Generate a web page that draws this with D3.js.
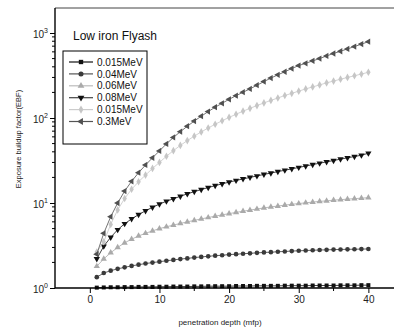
<!DOCTYPE html>
<html><head><meta charset="utf-8">
<script src="https://cdn.jsdelivr.net/npm/d3@7"></script>
<style>body{margin:0;background:#fff}svg{display:block}text{font-family:"Liberation Sans",Arial,sans-serif}</style>
</head><body><svg id="c" width="394" height="331"></svg>
<script>
const depth = [1,2,3,4,5,6,7,8,9,10,11,12,13,14,15,16,17,18,19,20,21,22,23,24,25,26,27,28,29,30,31,32,33,34,35,36,37,38,39,40];
const e0015 = [1.01,1.015,1.02,1.02,1.025,1.025,1.03,1.03,1.03,1.035,1.035,1.04,1.04,1.04,1.045,1.045,1.05,1.05,1.05,1.05,1.055,1.055,1.055,1.06,1.06,1.06,1.06,1.065,1.065,1.065,1.065,1.07,1.07,1.07,1.07,1.075,1.075,1.075,1.08,1.08];
const e004 = [1.34,1.5,1.6,1.68,1.75,1.82,1.88,1.94,1.99,2.04,2.09,2.14,2.19,2.23,2.28,2.32,2.36,2.4,2.43,2.47,2.5,2.53,2.56,2.59,2.62,2.64,2.67,2.69,2.72,2.74,2.76,2.78,2.8,2.81,2.83,2.84,2.85,2.86,2.87,2.88];
const e006 = [1.8,2.2,2.6,3.0,3.4,3.75,4.1,4.4,4.7,5.0,5.25,5.5,5.75,6.0,6.25,6.5,6.75,7.0,7.25,7.5,7.75,8.0,8.25,8.5,8.75,9.0,9.2,9.45,9.65,9.85,10.05,10.25,10.45,10.6,10.8,10.95,11.1,11.25,11.4,11.55];
const e008 = [2.2,3.1,3.95,4.85,5.7,6.5,7.3,8.1,8.9,9.7,10.5,11.2,12,12.8,13.6,14.4,15.2,16,16.8,17.6,18.4,19.2,20,20.8,21.7,22.5,23.4,24.3,25.2,26.2,27.2,28.3,29.4,30.5,31.6,32.8,34,35.2,36.5,38.5];
const e0015b = [2.65,3.5,5.6,8.3,11.3,14.5,17.8,21.3,25.5,30,35.5,41.3,47.6,54.2,61.2,68.6,76.3,84.4,92.8,101.6,110.7,120.2,130,140,150.5,161,172,184,195,207,220,232,245,259,272,286,300,314,329,345];
const e03 = [2.5,4.4,6.9,10,13.8,18,22.7,28,34,41,49.6,59,69,80,92,105,119,134,149,166,183,201,220,243,268,295,322,350,382,414,440,470,500,538,574,610,650,692,740,790];
const seriesNames = ["0.015MeV","0.04MeV","0.06MeV","0.08MeV","0.015MeV","0.3MeV"];
const xTicks = [0,10,20,30,40];
const yTicks = [1,10,100,1000];
const chartTitle = "Low iron Flyash";

const seriesValues = [e0015,e004,e006,e008,e0015b,e03];
const styles = [
  {color:"#111", sym:d3.symbolSquare, size:16, rot:0, lc:"#111"},
  {color:"#3a3a3a", sym:d3.symbolCircle, size:17, rot:0, lc:"#555"},
  {color:"#aaaaaa", sym:d3.symbolTriangle, size:17, rot:0, lc:"#bbb"},
  {color:"#111", sym:d3.symbolTriangle, size:17, rot:180, lc:"#444"},
  {color:"#c6c6c6", sym:d3.symbolDiamond, size:17, rot:0, lc:"#ccc"},
  {color:"#505050", sym:d3.symbolTriangle, size:17, rot:-90, lc:"#555"}
];

const svg = d3.select("#c");
const x = d3.scaleLinear().domain([-5,45]).range([55,403.2]);
const y = d3.scaleLog().domain([1,1000]).range([288,33]);
const topY = 8;

// frame
svg.append("line").attr("x1",55).attr("x2",394).attr("y1",topY).attr("y2",topY).attr("stroke","#444").attr("stroke-width",1);

// series
const line = d3.line().x((d,i)=>x(depth[i])).y(d=>y(d));
seriesValues.forEach((vals,k)=>{
  const st = styles[k];
  const g = svg.append("g");
  g.append("path").attr("d",line(vals)).attr("fill","none").attr("stroke",st.color).attr("stroke-width",0.8);
  g.selectAll("path.m").data(vals).enter().append("path").attr("class","m")
    .attr("d",d3.symbol().type(st.sym).size(st.size))
    .attr("transform",(d,i)=>`translate(${x(depth[i])},${y(d)}) rotate(${st.rot})`)
    .attr("fill",st.color);
});

// axes
const xAxis = d3.axisBottom(x).tickValues(xTicks).tickSize(5).tickPadding(3).tickFormat(d3.format("d"));
const gx = svg.append("g").attr("transform","translate(0,288)").call(xAxis);
gx.select(".domain").attr("d","M55,0H394").attr("stroke","#000").attr("stroke-width",1.4);
gx.selectAll(".tick line").attr("stroke","#000");
gx.selectAll(".tick text").attr("font-size",10).attr("fill","#222").attr("font-family","Liberation Sans, Arial, sans-serif");
const gxm = svg.append("g").attr("transform","translate(0,288)");
gxm.selectAll("line").data([5,15,25,35]).enter().append("line")
  .attr("x1",d=>x(d)).attr("x2",d=>x(d)).attr("y1",0).attr("y2",3).attr("stroke","#000");

const yAxis = d3.axisLeft(y).tickValues(yTicks).tickSize(5).tickPadding(3).tickFormat("");
const gy = svg.append("g").attr("transform","translate(55,0)").call(yAxis);
gy.select(".domain").attr("d",`M0,${topY}V288`).attr("stroke","#000").attr("stroke-width",1.4);
gy.selectAll(".tick line").attr("stroke","#000");
const minors = [];
[1,10,100,1000].forEach(b=>{for(let m=2;m<=9;m++){const v=b*m; if(y(v)>=topY) minors.push(v);}});
gy.selectAll("line.minor").data(minors).enter().append("line").attr("class","minor")
  .attr("x1",0).attr("x2",-3).attr("y1",d=>y(d)).attr("y2",d=>y(d)).attr("stroke","#000");
gy.selectAll(".tick").each(function(d){
  const t = d3.select(this).append("text").attr("x",-7).attr("y",4).attr("text-anchor","end").attr("fill","#222").attr("font-size",10);
  t.append("tspan").text("10");
  t.append("tspan").attr("font-size",7).attr("dy",-5).text(Math.round(Math.log10(d)));
});

// axis labels
svg.append("text").attr("x",220).attr("y",325).attr("text-anchor","middle").attr("font-size",8).attr("fill","#222").text("penetration depth (mfp)");
svg.append("text").attr("transform","translate(21,139) rotate(-90)").attr("text-anchor","middle").attr("font-size",7.5).attr("fill","#222").text("Exposure buildup factor(EBF)");

// legend
svg.append("text").attr("x",73).attr("y",40).attr("font-size",12).attr("fill","#111").text(chartTitle);
svg.append("rect").attr("x",63).attr("y",51).attr("width",84).attr("height",93).attr("fill","#fff").attr("stroke","#000").attr("stroke-width",1);
seriesNames.forEach((n,k)=>{
  const st = styles[k];
  const cy = 62 + k*11.9;
  svg.append("line").attr("x1",69).attr("x2",93).attr("y1",cy).attr("y2",cy).attr("stroke",st.lc).attr("stroke-width",1.2);
  svg.append("path").attr("d",d3.symbol().type(st.sym).size(st.size+3)).attr("transform",`translate(81,${cy}) rotate(${st.rot})`).attr("fill",st.color);
  svg.append("text").attr("x",97).attr("y",cy+3.6).attr("font-size",10).attr("fill","#111").text(n);
});
</script></body></html>
